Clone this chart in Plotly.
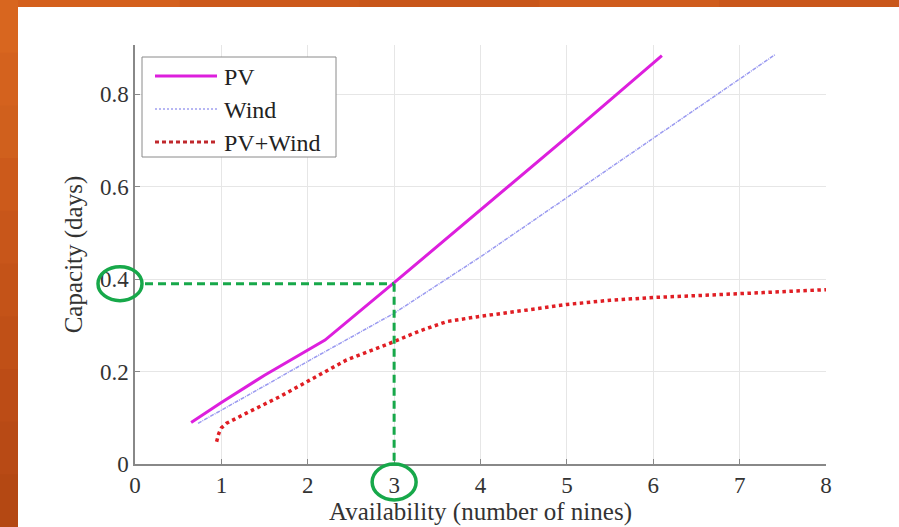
import plotly.graph_objects as go

# ---------------- data ----------------
pv_x = [0.65, 1.0, 1.5, 2.0, 2.2, 3.0, 4.0, 5.0, 6.1]
pv_y = [0.090, 0.133, 0.192, 0.246, 0.268, 0.392, 0.550, 0.707, 0.883]

wind_x = [0.73, 1.0, 1.5, 2.0, 2.5, 3.0, 4.0, 5.0, 6.0, 7.0, 7.41]
wind_y = [0.088, 0.117, 0.169, 0.222, 0.274, 0.326, 0.448, 0.576, 0.704, 0.833, 0.885]

pvw_x = [0.945, 0.97, 1.0, 1.06, 1.29, 1.68, 2.06, 2.45, 2.99, 3.3, 3.61, 3.95, 4.5, 5.0, 5.5, 6.0, 6.5, 7.0, 7.5, 8.0]
pvw_y = [0.048, 0.066, 0.078, 0.088, 0.110, 0.146, 0.185, 0.225, 0.264, 0.288, 0.308, 0.318, 0.332, 0.345, 0.354, 0.360, 0.364, 0.368, 0.372, 0.377]

series_names = ["PV", "Wind", "PV+Wind"]

x_ticks = [0, 1, 2, 3, 4, 5, 6, 7, 8]
y_ticks = [0, 0.2, 0.4, 0.6, 0.8]
y_tick_text = ["0", "0.2", "0.4", "0.6", "0.8"]

highlight_x = 3
highlight_y = 0.39

# ---------------- layout geometry ----------------
W, H = 899, 527
ML, MR, MT, MB = 135, 73, 45, 63
PW, PH = W - ML - MR, H - MT - MB
XR = [0, 8]
YR = [0, 0.906]

def px2paper_x(p):
    return (p - ML) / PW

def px2paper_y(p):
    return (H - MB - p) / PH

def dx2paper(x):
    return (x - XR[0]) / (XR[1] - XR[0])

def dy2paper(y):
    return (y - YR[0]) / (YR[1] - YR[0])

SERIF = "Liberation Serif, Times New Roman, serif"

styles = [
    dict(color="#dd1fdd", width=3),
    dict(color="#9a9af0", width=1.5, dash="4px,1px,1px,1px"),
    dict(color="#e01e24", width=3.5, dash="dot"),
]
legend_styles = [
    dict(color="#dd1fdd", width=3),
    dict(color="#a0a0f0", width=1.5, dash="2px,2px"),
    dict(color="#c0282c", width=3, dash="4px,3px"),
]

fig = go.Figure()
for xs, ys, nm, st in zip([pv_x, wind_x, pvw_x], [pv_y, wind_y, pvw_y], series_names, styles):
    fig.add_trace(go.Scatter(x=xs, y=ys, mode="lines", name=nm, line=st, showlegend=False))

shapes = []
annotations = []
# orange slide background strips
top_cols = ["#d4601d", "#cc591b", "#c8561a", "#cf5c1c", "#c9571b"]
n = len(top_cols)
for i, c in enumerate(top_cols):
    shapes.append(dict(type="rect", xref="paper", yref="paper",
                       x0=px2paper_x(i * W / n), x1=px2paper_x((i + 1) * W / n + 1),
                       y0=px2paper_y(7), y1=px2paper_y(0), fillcolor=c, line_width=0, layer="below"))
left_cols = ["#d8661f", "#d4621e", "#d0601d", "#cc5a1b", "#c8561a", "#c45318", "#c05017", "#bc4c16", "#b84a15", "#b44813"]
n = len(left_cols)
for i, c in enumerate(left_cols):
    shapes.append(dict(type="rect", xref="paper", yref="paper",
                       x0=px2paper_x(0), x1=px2paper_x(18),
                       y0=px2paper_y((i + 1) * H / n + 1), y1=px2paper_y(i * H / n), fillcolor=c, line_width=0, layer="below"))

# manual legend (box, samples, labels)
shapes.append(dict(type="rect", xref="paper", yref="paper",
                   x0=px2paper_x(142), x1=px2paper_x(336), y0=px2paper_y(157), y1=px2paper_y(57),
                   fillcolor="white", line=dict(color="#8a8a8a", width=1)))
for i, (nm, st) in enumerate(zip(series_names, legend_styles)):
    yc = 76 + i * 33
    shapes.append(dict(type="line", xref="paper", yref="paper",
                       x0=px2paper_x(155), x1=px2paper_x(217),
                       y0=px2paper_y(yc), y1=px2paper_y(yc), line=st))
    annotations.append(dict(text=nm, xref="paper", yref="paper", x=px2paper_x(222), y=px2paper_y(yc + 1),
                            xanchor="left", yanchor="middle", showarrow=False,
                            font=dict(family=SERIF, size=24, color="#222222")))

GREEN = "#17a84a"
# dashed guide lines
shapes.append(dict(type="line", xref="paper", yref="paper",
                   x0=px2paper_x(145), x1=dx2paper(highlight_x),
                   y0=dy2paper(highlight_y), y1=dy2paper(highlight_y),
                   line=dict(color=GREEN, width=3, dash="8px,5px")))
shapes.append(dict(type="line", xref="paper", yref="paper",
                   x0=dx2paper(highlight_x), x1=dx2paper(highlight_x),
                   y0=dy2paper(highlight_y), y1=px2paper_y(466),
                   line=dict(color=GREEN, width=3, dash="8px,5px")))
# circles around tick labels
cx, cy = px2paper_x(120), dy2paper(highlight_y)
shapes.append(dict(type="circle", xref="paper", yref="paper",
                   x0=cx - 22 / PW, x1=cx + 22 / PW, y0=cy - 17 / PH, y1=cy + 17 / PH,
                   line=dict(color=GREEN, width=3.5)))
cx, cy = dx2paper(highlight_x), px2paper_y(482)
shapes.append(dict(type="circle", xref="paper", yref="paper",
                   x0=cx - 22 / PW, x1=cx + 22 / PW, y0=cy - 18 / PH, y1=cy + 18 / PH,
                   line=dict(color=GREEN, width=3.5)))

fig.update_layout(
    width=W, height=H,
    margin=dict(l=ML, r=MR, t=MT, b=MB, pad=0, autoexpand=False),
    paper_bgcolor="white", plot_bgcolor="white",
    font=dict(family=SERIF, size=22, color="#333333"),
    showlegend=False,
    shapes=shapes,
    annotations=annotations,
    xaxis=dict(range=XR, tickvals=x_ticks, showgrid=True, gridcolor="#e6e6e6", gridwidth=1,
               zeroline=False, showline=True, linecolor="#888888", linewidth=1.5,
               ticks="inside", ticklen=5, tickcolor="#888888", automargin=False,
               tickfont=dict(family=SERIF, size=23, color="#333333"),
               title=dict(text="Availability (number of nines)", standoff=5,
                          font=dict(family=SERIF, size=25, color="#333333"))),
    yaxis=dict(range=YR, tickvals=y_ticks, ticktext=y_tick_text, showgrid=True, gridcolor="#e6e6e6",
               gridwidth=1, zeroline=False, showline=True, linecolor="#888888", linewidth=1.5,
               ticks="inside", ticklen=5, tickcolor="#888888", automargin=False,
               tickfont=dict(family=SERIF, size=23, color="#333333"),
               title=dict(text="Capacity (days)", standoff=10,
                          font=dict(family=SERIF, size=25, color="#333333"))),
)

fig.write_html("out.html")
